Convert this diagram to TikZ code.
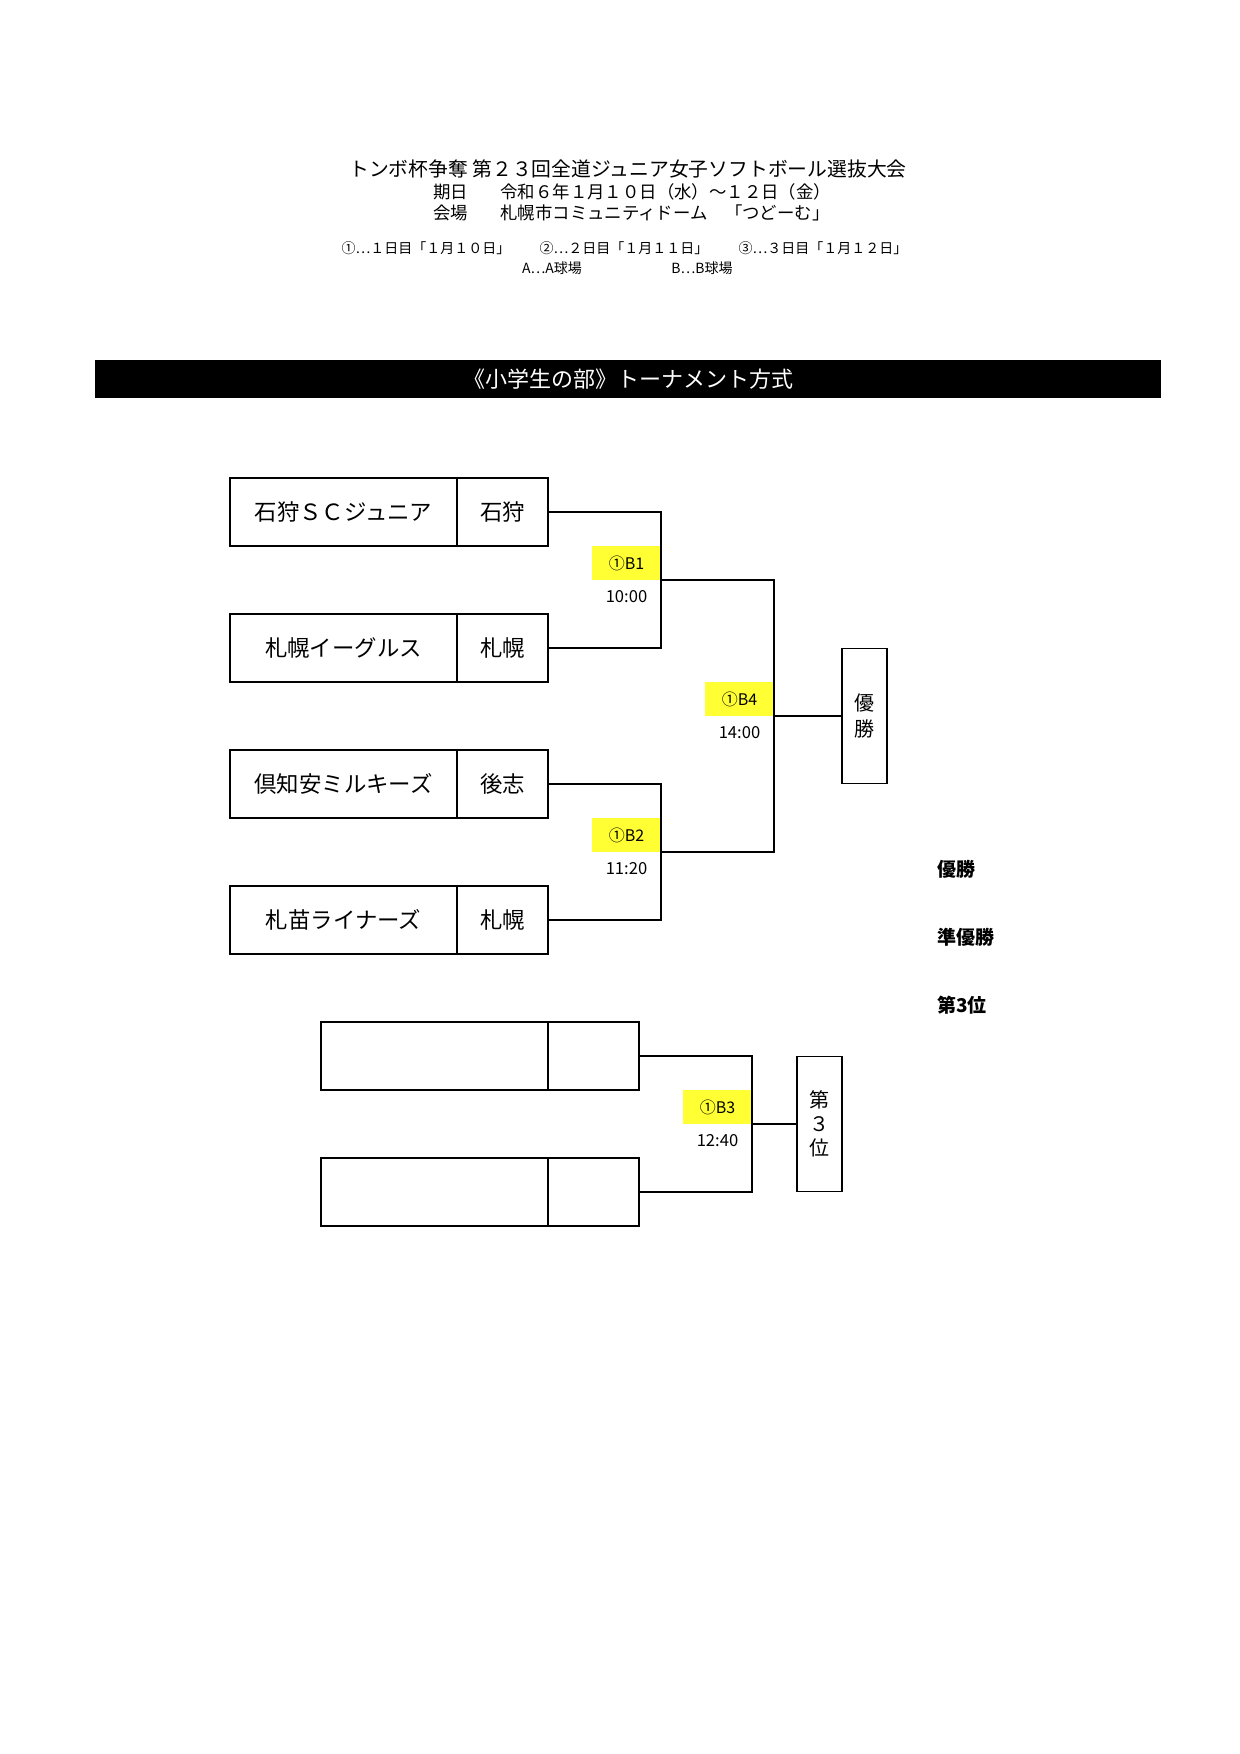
\documentclass[tikz,border=0pt]{standalone}
\usepackage{fontspec}
\setmainfont{Noto Sans CJK JP}
\usetikzlibrary{positioning,calc}
\definecolor{matchyellow}{RGB}{255,255,51}

\begin{document}
\begin{tikzpicture}[x=0.5pt, y=-0.5pt,
    teambox/.style={draw, line width=0.7pt, minimum width=113.5pt, minimum height=34pt, inner sep=0pt, outer sep=0pt, font=\fontsize{11.2}{13}\selectfont},
    regbox/.style={teambox, minimum width=45.5pt},
    rankbox/.style={draw, line width=0.7pt, minimum width=22.5pt, minimum height=67.5pt, inner sep=0pt, outer sep=0pt, align=center, font=\fontsize{10}{13}\selectfont},
    matchlbl/.style={fill=matchyellow, minimum width=34.5pt, minimum height=17pt, inner sep=0pt, outer sep=0pt, anchor=south east, font=\fontsize{8}{9}\selectfont},
    timelbl/.style={inner sep=0pt, font=\fontsize{8.3}{9}\selectfont},
    ranklbl/.style={anchor=west, inner sep=0pt, font=\bfseries\fontsize{9.5}{11}\selectfont},
    head/.style={inner sep=0pt, font=\fontsize{8.7}{10}\selectfont},
    small/.style={inner sep=0pt, font=\fontsize{7}{8}\selectfont},
    link/.style={line width=0.6pt},
    node distance=34pt
  ]
  \useasboundingbox (0,0) rectangle (1239,1754);

  % heading
  \node[inner sep=0pt, font=\fontsize{9.9}{11}\selectfont] (title) at (628,169) {トンボ杯争奪 第２３回全道ジュニア女子ソフトボール選抜大会};
  \node[head, anchor=west] (datekey) at (433,192) {期日};
  \node[head, anchor=west] (date) at (500,192) {令和６年１月１０日（水）～１２日（金）};
  \node[head, anchor=west] (venuekey) at (433,213) {会場};
  \node[head, anchor=west] (venue) at (500,213) {札幌市コミュニティドーム　「つどーむ」};
  \node[small] (day1) at (426,248) {①⋯１日目「１月１０日」};
  \node[small] (day2) at (624,248) {②⋯２日目「１月１１日」};
  \node[small] (day3) at (823,248) {③⋯３日目「１月１２日」};
  \node[small] (fielda) at (552,268) {A⋯A球場};
  \node[small] (fieldb) at (702,268) {B⋯B球場};

  \node[fill=black, text=white, minimum width=533pt, minimum height=19pt, inner sep=0pt, font=\fontsize{11}{13}\selectfont] (bar) at (628,379) {《小学生の部》トーナメント方式};

  % teams
  \node[teambox, anchor=north west] (name1) at (230,478) {石狩ＳＣジュニア};
  \node[regbox, right=0pt of name1] (reg1) {石狩};
  \node[teambox, below=of name1] (name2) {札幌イーグルス};
  \node[regbox, right=0pt of name2] (reg2) {札幌};
  \node[teambox, below=of name2] (name3) {倶知安ミルキーズ};
  \node[regbox, right=0pt of name3] (reg3) {後志};
  \node[teambox, below=of name3] (name4) {札苗ライナーズ};
  \node[regbox, right=0pt of name4] (reg4) {札幌};

  \node[teambox, anchor=north west] (name5) at (321,1022) {};
  \node[regbox, right=0pt of name5] (reg5) {};
  \node[teambox, below=of name5] (name6) {};
  \node[regbox, right=0pt of name6] (reg6) {};

  % bracket
  \coordinate (m1) at ($(reg1.east)!0.5!(reg2.east)+(113,0)$);
  \coordinate (m2) at ($(reg3.east)!0.5!(reg4.east)+(113,0)$);
  \coordinate (m4) at ($(m1)!0.5!(m2)+(113,0)$);
  \coordinate (m3) at ($(reg5.east)!0.5!(reg6.east)+(113,0)$);

  \node[matchlbl] (b1) at (m1) {①B1};
  \node[timelbl, below=5pt of b1] (t1) {10:00};
  \node[matchlbl] (b2) at (m2) {①B2};
  \node[timelbl, below=5pt of b2] (t2) {11:20};
  \node[matchlbl] (b4) at (m4) {①B4};
  \node[timelbl, below=5pt of b4] (t4) {14:00};
  \node[matchlbl] (b3) at (m3) {①B3};
  \node[timelbl, below=5pt of b3] (t3) {12:40};

  \node[rankbox, right=34pt of m4] (champ) {優\\勝};
  \node[rankbox, right=22.5pt of m3, font=\fontsize{10}{12}\selectfont] (third) {第\\３\\位};

  \draw[link] (reg1.east) -| (m1) |- (reg2.east);
  \draw[link] (reg3.east) -| (m2) |- (reg4.east);
  \draw[link] (m1) -| (m4) |- (m2);
  \draw[link] (m4) -- (champ.west);
  \draw[link] (reg5.east) -| (m3) |- (reg6.east);
  \draw[link] (m3) -- (third.west);

  % results
  \node[ranklbl] (first) at (937,869) {優勝};
  \node[ranklbl] (second) at (937,937) {準優勝};
  \node[ranklbl] (bronze) at (937,1005) {第3位};
\end{tikzpicture}
\end{document}
